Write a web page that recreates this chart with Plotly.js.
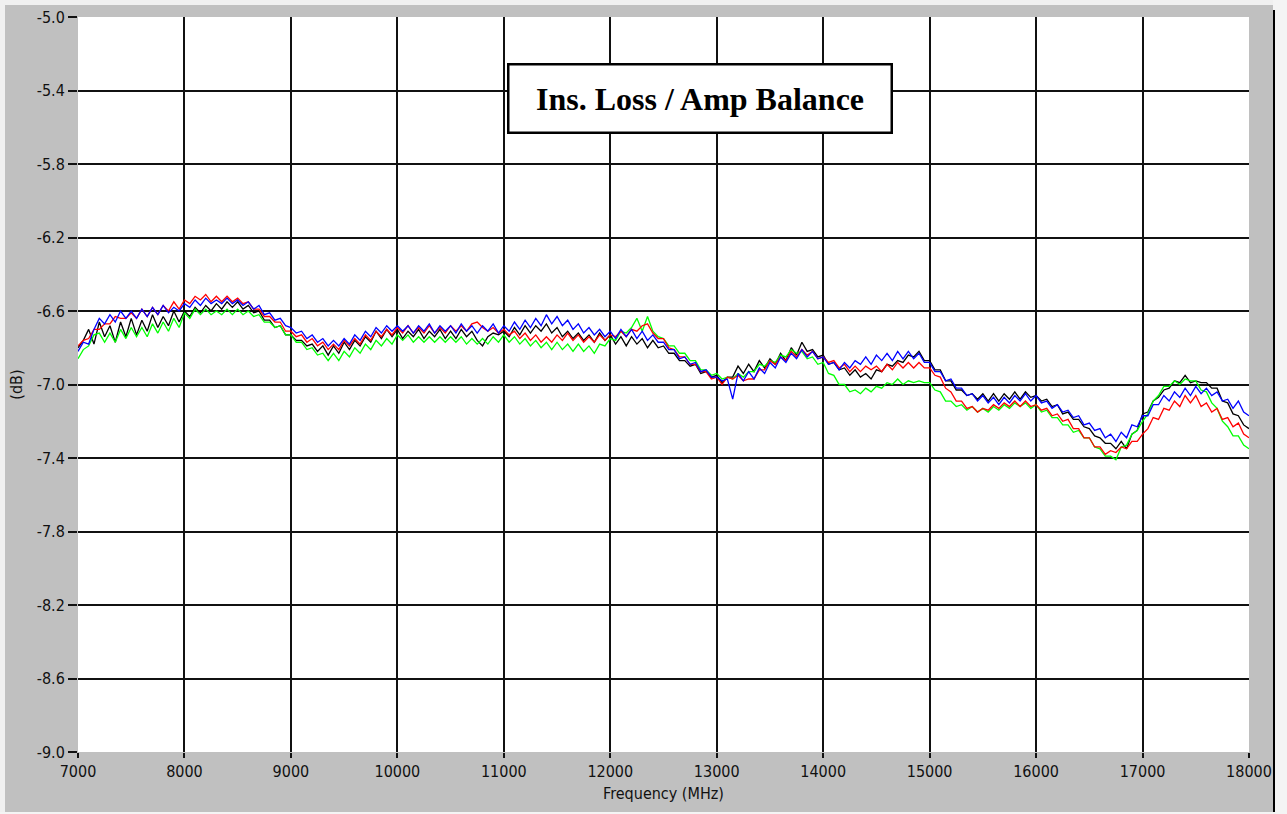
<!DOCTYPE html>
<html>
<head>
<meta charset="utf-8">
<script src="https://cdn.plot.ly/plotly-3.0.1.min.js"></script>
<style>html,body{margin:0;padding:0;background:#f4f4f4;}#chart{width:1287px;height:814px;}</style>
</head>
<body>
<div id="chart"></div>
<script>
// Frequency axis: 7000..18000 MHz, 50 MHz steps (221 points)
const freqStart = 7000;
const freqStep = 50;

const blueDB = [
-6.82,-6.77,-6.78,-6.70,-6.64,-6.67,-6.62,-6.66,-6.60,-6.64,
-6.60,-6.64,-6.59,-6.63,-6.58,-6.62,-6.57,-6.61,-6.58,-6.60,
-6.56,-6.58,-6.54,-6.57,-6.53,-6.56,-6.54,-6.56,-6.53,-6.56,
-6.54,-6.57,-6.55,-6.59,-6.57,-6.62,-6.61,-6.65,-6.64,-6.68,
-6.69,-6.72,-6.71,-6.75,-6.73,-6.77,-6.75,-6.79,-6.76,-6.79,
-6.75,-6.78,-6.73,-6.76,-6.71,-6.74,-6.69,-6.72,-6.68,-6.71,
-6.68,-6.71,-6.68,-6.72,-6.68,-6.71,-6.67,-6.72,-6.68,-6.71,
-6.68,-6.72,-6.67,-6.71,-6.68,-6.72,-6.68,-6.71,-6.67,-6.72,
-6.68,-6.71,-6.66,-6.70,-6.65,-6.69,-6.64,-6.68,-6.62,-6.67,
-6.63,-6.68,-6.65,-6.70,-6.67,-6.72,-6.69,-6.73,-6.70,-6.74,
-6.71,-6.75,-6.70,-6.74,-6.70,-6.75,-6.71,-6.76,-6.73,-6.77,
-6.77,-6.81,-6.81,-6.86,-6.85,-6.89,-6.88,-6.93,-6.92,-6.96,
-6.96,-6.98,-6.97,-7.08,-6.94,-6.98,-6.93,-6.97,-6.91,-6.94,
-6.88,-6.91,-6.85,-6.88,-6.83,-6.86,-6.81,-6.85,-6.82,-6.86,
-6.85,-6.89,-6.88,-6.92,-6.88,-6.91,-6.87,-6.89,-6.85,-6.89,
-6.84,-6.87,-6.83,-6.87,-6.82,-6.86,-6.82,-6.86,-6.83,-6.88,
-6.88,-6.93,-6.93,-6.98,-6.97,-7.02,-7.02,-7.06,-7.05,-7.09,
-7.06,-7.10,-7.07,-7.11,-7.07,-7.10,-7.06,-7.09,-7.05,-7.09,
-7.06,-7.10,-7.09,-7.13,-7.11,-7.15,-7.14,-7.18,-7.17,-7.22,
-7.21,-7.25,-7.24,-7.29,-7.27,-7.31,-7.26,-7.29,-7.22,-7.23,
-7.17,-7.17,-7.11,-7.11,-7.06,-7.09,-7.04,-7.07,-7.02,-7.06,
-7.01,-7.05,-7.02,-7.06,-7.04,-7.09,-7.08,-7.13,-7.09,-7.15,
-7.17
];

const blackDB = [
-6.80,-6.76,-6.70,-6.78,-6.66,-6.74,-6.68,-6.77,-6.66,-6.74,
-6.64,-6.73,-6.65,-6.71,-6.62,-6.69,-6.63,-6.68,-6.60,-6.66,
-6.60,-6.63,-6.58,-6.61,-6.57,-6.60,-6.56,-6.59,-6.55,-6.58,
-6.55,-6.59,-6.57,-6.61,-6.60,-6.65,-6.65,-6.69,-6.68,-6.73,
-6.73,-6.76,-6.76,-6.79,-6.78,-6.82,-6.79,-6.84,-6.79,-6.83,
-6.77,-6.81,-6.76,-6.79,-6.74,-6.77,-6.71,-6.75,-6.70,-6.74,
-6.70,-6.75,-6.71,-6.74,-6.70,-6.75,-6.71,-6.74,-6.70,-6.75,
-6.71,-6.75,-6.70,-6.74,-6.71,-6.76,-6.79,-6.74,-6.72,-6.73,
-6.71,-6.74,-6.69,-6.73,-6.68,-6.72,-6.68,-6.71,-6.67,-6.72,
-6.69,-6.74,-6.71,-6.75,-6.72,-6.76,-6.73,-6.77,-6.72,-6.76,
-6.73,-6.78,-6.74,-6.79,-6.74,-6.78,-6.75,-6.80,-6.76,-6.80,
-6.79,-6.83,-6.83,-6.87,-6.87,-6.90,-6.89,-6.94,-6.93,-6.96,
-6.95,-6.99,-6.96,-6.96,-6.90,-6.94,-6.89,-6.93,-6.87,-6.91,
-6.86,-6.89,-6.83,-6.87,-6.80,-6.84,-6.77,-6.82,-6.81,-6.85,
-6.84,-6.89,-6.88,-6.92,-6.91,-6.95,-6.92,-6.96,-6.94,-6.97,
-6.92,-6.93,-6.89,-6.90,-6.87,-6.88,-6.84,-6.85,-6.82,-6.87,
-6.87,-6.92,-6.92,-6.98,-6.98,-7.03,-7.03,-7.06,-7.05,-7.08,
-7.05,-7.09,-7.05,-7.09,-7.05,-7.08,-7.04,-7.08,-7.04,-7.07,
-7.06,-7.09,-7.08,-7.12,-7.11,-7.16,-7.15,-7.19,-7.19,-7.23,
-7.24,-7.28,-7.29,-7.32,-7.32,-7.35,-7.31,-7.35,-7.27,-7.25,
-7.16,-7.15,-7.09,-7.07,-7.03,-7.02,-6.98,-6.99,-6.95,-6.99,
-6.98,-6.99,-6.99,-7.02,-7.02,-7.09,-7.10,-7.16,-7.17,-7.22,
-7.24
];

const redDB = [
-6.79,-6.76,-6.75,-6.70,-6.70,-6.67,-6.67,-6.63,-6.64,-6.64,
-6.61,-6.64,-6.59,-6.63,-6.58,-6.62,-6.57,-6.60,-6.55,-6.59,
-6.54,-6.56,-6.52,-6.54,-6.51,-6.55,-6.52,-6.55,-6.52,-6.55,
-6.53,-6.56,-6.55,-6.59,-6.59,-6.63,-6.63,-6.66,-6.66,-6.71,
-6.71,-6.74,-6.73,-6.77,-6.75,-6.79,-6.77,-6.81,-6.78,-6.81,
-6.76,-6.79,-6.75,-6.78,-6.73,-6.76,-6.71,-6.74,-6.70,-6.73,
-6.69,-6.72,-6.68,-6.72,-6.69,-6.72,-6.68,-6.72,-6.69,-6.72,
-6.68,-6.71,-6.68,-6.71,-6.67,-6.66,-6.69,-6.71,-6.69,-6.72,
-6.70,-6.73,-6.71,-6.75,-6.72,-6.76,-6.73,-6.77,-6.74,-6.77,
-6.73,-6.76,-6.72,-6.76,-6.73,-6.77,-6.74,-6.77,-6.73,-6.76,
-6.73,-6.74,-6.71,-6.74,-6.70,-6.71,-6.68,-6.67,-6.72,-6.75,
-6.75,-6.80,-6.81,-6.85,-6.85,-6.89,-6.89,-6.93,-6.93,-6.97,
-6.96,-7.00,-6.96,-6.97,-6.95,-6.98,-6.97,-6.97,-6.92,-6.92,
-6.87,-6.89,-6.85,-6.87,-6.82,-6.85,-6.81,-6.84,-6.82,-6.86,
-6.85,-6.88,-6.87,-6.91,-6.89,-6.93,-6.90,-6.93,-6.90,-6.92,
-6.90,-6.93,-6.89,-6.92,-6.88,-6.91,-6.88,-6.91,-6.88,-6.91,
-6.91,-6.95,-6.96,-7.02,-7.04,-7.09,-7.09,-7.13,-7.12,-7.15,
-7.13,-7.14,-7.11,-7.13,-7.10,-7.12,-7.09,-7.12,-7.09,-7.12,
-7.11,-7.14,-7.13,-7.17,-7.16,-7.20,-7.19,-7.24,-7.24,-7.29,
-7.29,-7.34,-7.34,-7.38,-7.36,-7.37,-7.34,-7.35,-7.31,-7.31,
-7.27,-7.24,-7.18,-7.19,-7.13,-7.14,-7.09,-7.12,-7.06,-7.10,
-7.06,-7.12,-7.10,-7.15,-7.13,-7.19,-7.18,-7.23,-7.21,-7.27,
-7.29
];

const greenDB = [
-6.86,-6.81,-6.79,-6.73,-6.72,-6.77,-6.72,-6.77,-6.70,-6.75,
-6.69,-6.74,-6.69,-6.74,-6.67,-6.72,-6.66,-6.71,-6.64,-6.69,
-6.61,-6.64,-6.59,-6.62,-6.59,-6.62,-6.60,-6.62,-6.59,-6.62,
-6.59,-6.62,-6.60,-6.63,-6.62,-6.66,-6.66,-6.69,-6.68,-6.73,
-6.73,-6.77,-6.77,-6.81,-6.80,-6.84,-6.83,-6.87,-6.83,-6.87,
-6.82,-6.85,-6.80,-6.83,-6.78,-6.81,-6.76,-6.79,-6.75,-6.78,
-6.73,-6.76,-6.73,-6.77,-6.74,-6.77,-6.74,-6.77,-6.74,-6.77,
-6.74,-6.77,-6.74,-6.78,-6.75,-6.78,-6.75,-6.78,-6.74,-6.77,
-6.73,-6.77,-6.74,-6.78,-6.75,-6.79,-6.76,-6.80,-6.77,-6.81,
-6.77,-6.81,-6.78,-6.82,-6.78,-6.82,-6.79,-6.83,-6.78,-6.79,
-6.75,-6.76,-6.71,-6.72,-6.69,-6.64,-6.71,-6.63,-6.71,-6.74,
-6.75,-6.79,-6.79,-6.83,-6.83,-6.87,-6.87,-6.92,-6.92,-6.95,
-6.94,-6.97,-6.96,-6.97,-6.94,-6.96,-6.93,-6.93,-6.89,-6.90,
-6.87,-6.88,-6.84,-6.85,-6.81,-6.83,-6.82,-6.86,-6.85,-6.89,
-6.88,-6.94,-6.95,-7.00,-7.00,-7.04,-7.03,-7.05,-7.02,-7.04,
-7.01,-7.02,-6.99,-7.00,-6.97,-7.00,-6.98,-6.99,-6.98,-6.99,
-6.99,-7.03,-7.04,-7.09,-7.09,-7.12,-7.11,-7.14,-7.12,-7.15,
-7.13,-7.15,-7.12,-7.14,-7.11,-7.13,-7.10,-7.12,-7.10,-7.13,
-7.11,-7.15,-7.14,-7.18,-7.18,-7.22,-7.22,-7.26,-7.25,-7.29,
-7.29,-7.34,-7.35,-7.39,-7.39,-7.41,-7.34,-7.33,-7.27,-7.25,
-7.20,-7.16,-7.09,-7.06,-7.01,-7.01,-6.98,-7.00,-6.97,-6.98,
-6.98,-7.03,-7.04,-7.10,-7.13,-7.20,-7.23,-7.28,-7.28,-7.33,
-7.35
];

const xTickVals = [7000,8000,9000,10000,11000,12000,13000,14000,15000,16000,17000,18000];
const xTickText = ['7000','8000','9000','10000','11000','12000','13000','14000','15000','16000','17000','18000'];
const yTickVals = [-9.0,-8.6,-8.2,-7.8,-7.4,-7.0,-6.6,-6.2,-5.8,-5.4,-5.0];
const yTickText = ['-9.0','-8.6','-8.2','-7.8','-7.4','-7.0','-6.6','-6.2','-5.8','-5.4','-5.0'];

const chartTitle = 'Ins. Loss / Amp Balance';
const xTitle = 'Frequency (MHz)';
const yTitle = '(dB)';

const freqs = blueDB.map((_, i) => freqStart + i * freqStep);

function tr(y, color) {
  return {x: freqs, y: y, type: 'scatter', mode: 'lines',
          line: {color: color, width: 1.3}, hoverinfo: 'skip', showlegend: false};
}

const data = [tr(blackDB, '#000000'), tr(greenDB, '#00ff00'), tr(redDB, '#ff0000'), tr(blueDB, '#0000ff')];

// plot area: px 78..1249 (x), 17..752 (y)
const PL = 78, PR = 1249, PT = 17, PB = 752;
const px = v => (v - PL) / (PR - PL);
const py = v => (PB - v) / (PB - PT);

const tickFont = {family: 'Liberation Sans Narrow, DejaVu Sans Condensed, Arial Narrow, sans-serif', size: 16, color: '#111'};

function band(x0, x1, y0, y1, color) {
  return {type: 'rect', xref: 'paper', yref: 'paper', layer: 'above',
          x0: px(x0), x1: px(x1), y0: py(y1), y1: py(y0),
          fillcolor: color, line: {width: 0}};
}

const layout = {
  width: 1287, height: 814,
  margin: {l: PL, r: 1287 - PR, t: PT, b: 814 - PB, pad: 0},
  paper_bgcolor: '#c0c0c0',
  plot_bgcolor: '#ffffff',
  font: tickFont,
  xaxis: {
    range: [7000, 18000], tickvals: xTickVals, ticktext: xTickText,
    showgrid: true, gridcolor: '#111', gridwidth: 2,
    ticks: 'outside', ticklen: 5, tickwidth: 2, tickcolor: '#111',
    showline: false, zeroline: false, tickfont: tickFont,
    title: {text: xTitle, font: tickFont, standoff: 7}
  },
  yaxis: {
    range: [-9.0, -5.0], tickvals: yTickVals, ticktext: yTickText,
    showgrid: true, gridcolor: '#111', gridwidth: 2,
    ticks: 'outside', ticklen: 9, tickwidth: 2, tickcolor: '#111',
    showline: false, zeroline: false, tickfont: tickFont,
    title: {text: yTitle, font: tickFont, standoff: 10}
  },
  shapes: [
    band(0, 1287, 0, 5, '#f0f0f0'),
    band(0, 5, 0, 814, '#f0f0f0'),
    band(1273, 1287, 0, 814, '#f4f4f4'),
    band(0, 1287, 812, 814, '#f4f4f4'),
    {type: 'line', xref: 'paper', yref: 'paper', layer: 'above',
     x0: px(1274), x1: px(1274), y0: py(812), y1: py(10),
     line: {color: '#000', width: 2}}
  ],
  annotations: [
    {xref: 'paper', yref: 'paper', x: px(700), y: py(98.5),
     xanchor: 'center', yanchor: 'middle', showarrow: false,
     text: '<b>' + chartTitle + '</b>',
     font: {family: 'Liberation Serif, Times New Roman, serif', size: 32, color: '#000'},
     bgcolor: '#ffffff', bordercolor: '#000', borderwidth: 2.5, borderpad: 0,
     width: 381, height: 66}
  ]
};

Plotly.newPlot('chart', data, layout, {staticPlot: true, displayModeBar: false});
</script>
</body>
</html>
